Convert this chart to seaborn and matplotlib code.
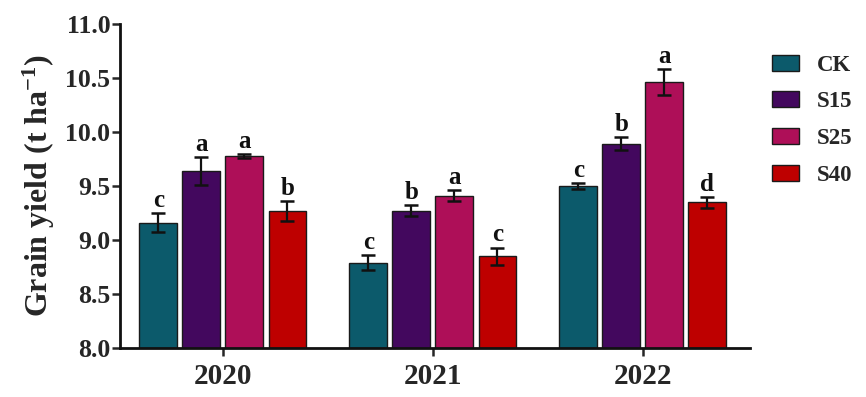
import numpy as np
import pandas as pd
import matplotlib
matplotlib.use("Agg")
import matplotlib.pyplot as plt
import seaborn as sns

# Grain yield by year and straw treatment
years = ["2020", "2021", "2022"]
treatments = ["CK", "S15", "S25", "S40"]
ck = [9.16, 8.79, 9.50]
s15 = [9.64, 9.27, 9.89]
s25 = [9.78, 9.41, 10.46]
s40 = [9.27, 8.85, 9.35]
ck_err = [0.09, 0.07, 0.03]
s15_err = [0.13, 0.05, 0.06]
s25_err = [0.02, 0.05, 0.12]
s40_err = [0.09, 0.08, 0.05]
ck_sig = ["c", "c", "c"]
s15_sig = ["a", "b", "b"]
s25_sig = ["a", "a", "a"]
s40_sig = ["b", "c", "d"]

colors = ["#0C5A6B", "#43085E", "#AE0F58", "#BE0000"]

rows = []
for t, vals, errs, sigs in zip(treatments, [ck, s15, s25, s40],
                               [ck_err, s15_err, s25_err, s40_err],
                               [ck_sig, s15_sig, s25_sig, s40_sig]):
    for y, v, e, s in zip(years, vals, errs, sigs):
        rows.append({"Year": y, "Treatment": t, "Yield": v, "SE": e, "Sig": s})
df = pd.DataFrame(rows)

sns.set_style("ticks")
plt.rcParams["font.family"] = ["Liberation Serif", "DejaVu Serif"]
plt.rcParams["font.weight"] = "bold"
plt.rcParams["mathtext.fontset"] = "custom"
plt.rcParams["mathtext.rm"] = "Liberation Serif:bold"
plt.rcParams["mathtext.bf"] = "Liberation Serif:bold"
plt.rcParams["mathtext.default"] = "bf"

fig = plt.figure(figsize=(8.66, 3.97), dpi=100)
ax = fig.add_axes([0.1386, 0.1234, 0.866 - 0.1386, 0.9395 - 0.1234])

sns.barplot(data=df, x="Year", y="Yield", hue="Treatment", order=years,
            hue_order=treatments, palette=colors, width=0.82, gap=0.12,
            edgecolor="#1a1a1a", linewidth=1.0, errorbar=None, ax=ax,
            saturation=1)

# error bars and significance letters on top of each bar
for cont, t in zip(ax.containers, treatments):
    sub = df[df["Treatment"] == t].set_index("Year").loc[years]
    for patch, (_, r) in zip(cont.patches, sub.iterrows()):
        xc = patch.get_x() + patch.get_width() / 2
        h = patch.get_height() + patch.get_y()
        ax.errorbar(xc, h, yerr=r["SE"], fmt="none", ecolor="#111111",
                    elinewidth=1.6, capsize=4.8, capthick=1.8, zorder=5)
        ax.text(xc, h + r["SE"] + 0.01, r["Sig"], ha="center", va="bottom",
                fontsize=18, fontweight="bold", color="#111111")

ax.set_ylim(8.0, 11.0)
ax.set_xlim(-0.49, 2.51)
ax.set_yticks([8.0, 8.5, 9.0, 9.5, 10.0, 10.5, 11.0])
ax.set_yticklabels([f"{v:.1f}" for v in ax.get_yticks()])
ax.set_xlabel("")
ax.set_ylabel("Grain yield (t ha$^{-1}$)", fontsize=23,
              fontweight="bold", labelpad=6)
ax.tick_params(axis="y", labelsize=18.5, width=1.8, length=6, pad=1)
ax.tick_params(axis="x", labelsize=21, width=1.8, length=6, pad=5)
for lab in ax.get_xticklabels() + ax.get_yticklabels():
    lab.set_fontweight("bold")
for side in ["top", "right"]:
    ax.spines[side].set_visible(False)
for side in ["left", "bottom"]:
    ax.spines[side].set_linewidth(2.0)
    ax.spines[side].set_color("#111111")

leg = ax.legend(loc="upper left", bbox_to_anchor=(0.892, 0.862),
                bbox_transform=fig.transFigure, frameon=False,
                prop={"size": 16.5, "weight": "bold"}, handlelength=1.15,
                handleheight=0.7, labelspacing=0.68, handletextpad=0.8,
                borderaxespad=0, borderpad=0)

fig.savefig("out.png", dpi=100)
